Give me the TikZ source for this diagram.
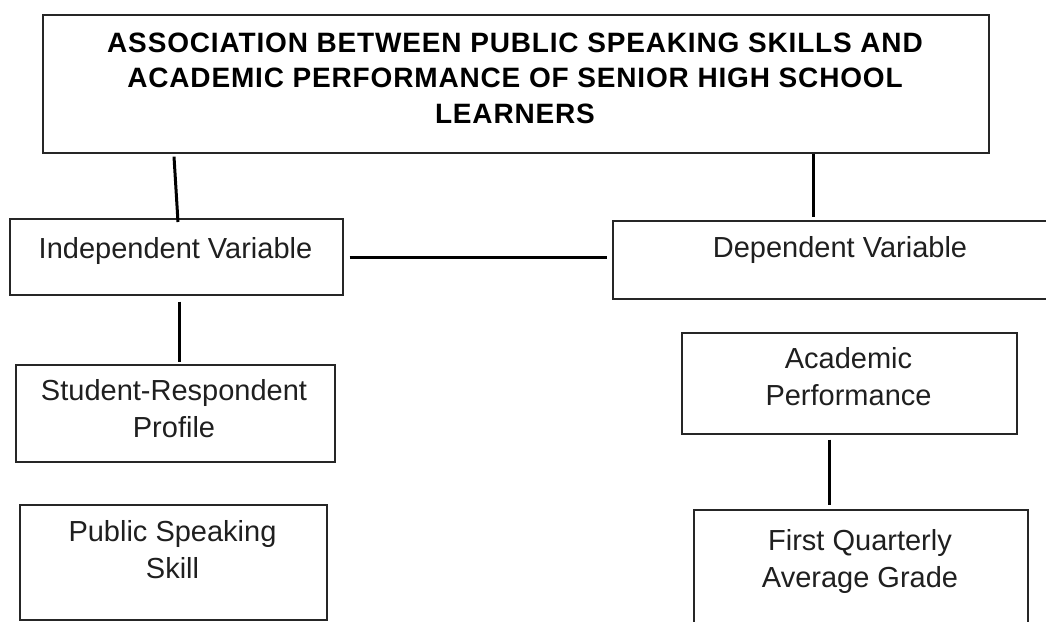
\documentclass[tikz,border=0pt]{standalone}
\usepackage{fontspec}
\setmainfont{Liberation Sans}
\newfontfamily\titlefont{Liberation Sans}[LetterSpace=3.0]
\usetikzlibrary{calc}
\begin{document}
\begin{tikzpicture}[x=1pt,y=-1pt,
  box/.style={draw=black!85, line width=1.6pt, rectangle, inner sep=0pt, anchor=north west},
  lbl/.style={inner sep=0pt, align=center, anchor=base, text=black!88,
    font=\fontsize{29}{37}\selectfont},
  ttl/.style={inner sep=0pt, align=center, anchor=base, text=black,
    font=\titlefont\fontsize{28}{35.2}\selectfont\bfseries},
  conn/.style={draw=black, line width=3pt}]
\useasboundingbox (0,0) rectangle (1046,621);
\clip (0,0) rectangle (1046,621);

% boxes
\node[box, minimum width=946pt, minimum height=138pt] (title) at (42,14) {};
\node[box, minimum width=333pt, minimum height=76pt]  (indep) at (9,218) {};
\node[box, minimum width=450pt, minimum height=78pt]  (dep)   at (612,220) {};
\node[box, minimum width=319pt, minimum height=97pt]  (prof)  at (15,364) {};
\node[box, minimum width=307pt, minimum height=115pt] (pss)   at (19,504) {};
\node[box, minimum width=335pt, minimum height=101pt] (acad)  at (681,332) {};
\node[box, minimum width=334pt, minimum height=130pt] (fqag)  at (693,509) {};

% texts (base anchor = baseline of the last line)
\node[ttl] (title-t) at (515,123) {ASSOCIATION BETWEEN PUBLIC SPEAKING SKILLS AND\\ACADEMIC PERFORMANCE OF SENIOR HIGH SCHOOL\\LEARNERS};
\node[lbl] (indep-t) at (175.5,258) {Independent Variable};
\node[lbl] (dep-t)   at (840,257) {Dependent Variable};
\node[lbl] (prof-t)  at (174,437) {Student-Respondent\\Profile};
\node[lbl] (pss-t)   at (172.5,578) {Public Speaking\\Skill};
\node[lbl] (acad-t)  at (848.5,405) {Academic\\Performance};
\node[lbl] (fqag-t)  at (860,587) {First Quarterly\\Average Grade};

% connectors
\draw[conn] ($(title.south west)+(132,3)$) -- ($(indep.north west)+(169,4)$);
\draw[conn] ($(title.south west)+(771,0)$) -- ($(dep.north west)+(201,-3)$);
\draw[conn] ($(indep.east)+(6,1)$) -- ($(dep.west)+(-5,-2)$);
\draw[conn] ($(indep.south west)+(170,6)$) -- ($(prof.north west)+(164,-2)$);
\draw[conn] ($(acad.south west)+(148,5)$) -- ($(fqag.north west)+(136,-4)$);
\end{tikzpicture}
\end{document}
